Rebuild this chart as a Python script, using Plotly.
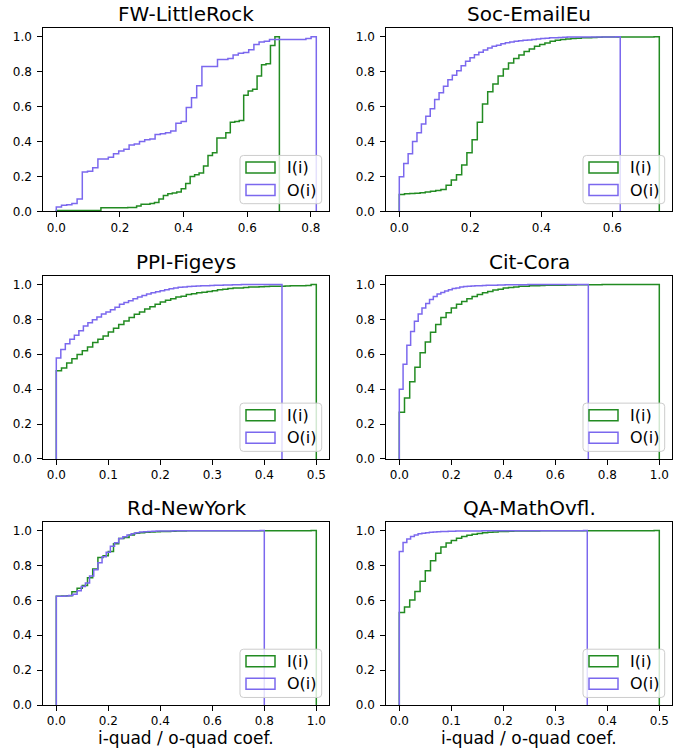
import numpy as np
import plotly.graph_objects as go

# ---------------- data ----------------
titles = ["FW-LittleRock", "Soc-EmailEu", "PPI-Figeys", "Cit-Cora", "Rd-NewYork", "QA-MathOvfl."]
series_names = ["I(i)", "O(i)"]
x_label = "i-quad / o-quad coef."

# largest coefficient of each series (right end of each cumulative histogram)
i_max = [0.701, 0.732, 0.500, 1.000, 1.000, 0.500]
o_max = [0.817, 0.622, 0.434, 0.727, 0.800, 0.3615]

# cumulative fraction per bin (50 equal bins from 0 to the max)
fw_i = [0.004, 0.004, 0.004, 0.004, 0.004, 0.004, 0.004, 0.004, 0.004, 0.004,
        0.02, 0.02, 0.02, 0.02, 0.02, 0.02, 0.022, 0.022, 0.03, 0.04,
        0.04, 0.045, 0.05, 0.07, 0.09, 0.10, 0.105, 0.11, 0.13, 0.16,
        0.20, 0.21, 0.22, 0.26, 0.32, 0.335, 0.42, 0.42, 0.45, 0.51,
        0.515, 0.52, 0.665, 0.69, 0.70, 0.775, 0.84, 0.845, 0.95, 1.0]
fw_o = [0.025, 0.035, 0.038, 0.045, 0.07, 0.225, 0.23, 0.25, 0.30, 0.30,
        0.31, 0.33, 0.345, 0.355, 0.38, 0.385, 0.40, 0.41, 0.415, 0.44,
        0.445, 0.45, 0.46, 0.505, 0.515, 0.595, 0.65, 0.72, 0.83, 0.83,
        0.83, 0.87, 0.87, 0.875, 0.895, 0.905, 0.91, 0.925, 0.955, 0.97,
        0.975, 0.985, 0.985, 0.985, 0.985, 0.985, 0.985, 0.985, 0.99, 1.0]

soc_i = [0.097, 0.10, 0.102, 0.104, 0.106, 0.11, 0.115, 0.12, 0.125, 0.15,
         0.18, 0.21, 0.265, 0.335, 0.41, 0.51, 0.615, 0.685, 0.73, 0.775,
         0.815, 0.85, 0.875, 0.895, 0.915, 0.93, 0.945, 0.955, 0.965, 0.975,
         0.98, 0.984, 0.987, 0.99, 0.992, 0.994, 0.995, 0.996, 0.997, 0.998,
         0.999, 0.999, 0.999, 0.999, 0.999, 0.999, 0.999, 0.999, 0.999, 1.0]
soc_o = [0.198, 0.274, 0.33, 0.40, 0.45, 0.50, 0.545, 0.587, 0.64, 0.68,
         0.716, 0.754, 0.78, 0.805, 0.834, 0.86, 0.88, 0.897, 0.912, 0.924,
         0.935, 0.945, 0.952, 0.96, 0.966, 0.97, 0.974, 0.977, 0.98, 0.982,
         0.985, 0.987, 0.99, 0.992, 0.994, 0.995, 0.996, 0.997, 0.998, 0.998,
         0.998, 0.999, 0.999, 0.999, 0.999, 0.999, 0.999, 0.999, 0.999, 1.0]

ppi_i = [0.505, 0.522, 0.55, 0.575, 0.598, 0.62, 0.642, 0.667, 0.686, 0.705,
         0.728, 0.749, 0.77, 0.79, 0.81, 0.829, 0.842, 0.859, 0.872, 0.886,
         0.899, 0.909, 0.918, 0.928, 0.933, 0.943, 0.947, 0.952, 0.956, 0.96,
         0.964, 0.97, 0.973, 0.977, 0.98, 0.98, 0.983, 0.985, 0.986, 0.987,
         0.988, 0.99, 0.99, 0.99, 0.991, 0.992, 0.992, 0.993, 0.994, 1.0]
ppi_o = [0.579, 0.627, 0.66, 0.686, 0.709, 0.735, 0.762, 0.78, 0.798, 0.813,
         0.83, 0.842, 0.855, 0.869, 0.886, 0.897, 0.907, 0.918, 0.928, 0.937,
         0.945, 0.952, 0.958, 0.964, 0.97, 0.975, 0.98, 0.984, 0.986, 0.988,
         0.99, 0.991, 0.992, 0.993, 0.994, 0.995, 0.996, 0.997, 0.997, 0.998,
         0.998, 0.999, 0.999, 0.999, 0.999, 0.999, 0.999, 0.999, 0.999, 1.0]

cora_i = [0.268, 0.35, 0.442, 0.526, 0.608, 0.67, 0.726, 0.771, 0.811, 0.838,
          0.865, 0.886, 0.903, 0.918, 0.931, 0.943, 0.952, 0.96, 0.968, 0.973,
          0.979, 0.983, 0.985, 0.989, 0.99, 0.992, 0.993, 0.994, 0.995, 0.995,
          0.996, 0.996, 0.997, 0.997, 0.998, 0.998, 0.998, 0.998, 0.998, 0.999,
          0.999, 0.999, 0.999, 0.999, 0.999, 0.999, 0.999, 0.999, 0.999, 1.0]
cora_o = [0.40, 0.543, 0.651, 0.731, 0.789, 0.83, 0.865, 0.891, 0.914, 0.931,
          0.945, 0.954, 0.963, 0.97, 0.977, 0.98, 0.985, 0.988, 0.99, 0.991,
          0.992, 0.993, 0.994, 0.995, 0.996, 0.996, 0.997, 0.997, 0.998, 0.998,
          0.998, 0.998, 0.998, 0.998, 0.999, 0.999, 0.999, 0.999, 0.999, 0.999,
          0.999, 0.999, 0.999, 0.999, 0.999, 0.999, 0.999, 0.999, 0.999, 1.0]

rd_i = [0.623, 0.625, 0.627, 0.65, 0.67, 0.685, 0.73, 0.78, 0.845, 0.855,
        0.88, 0.925, 0.955, 0.96, 0.975, 0.985, 0.988, 0.99, 0.992, 0.993,
        0.994, 0.995, 0.996, 0.997, 0.998, 0.999, 0.999, 0.999, 0.999, 0.999,
        0.999, 0.999, 0.999, 0.999, 0.999, 0.999, 0.999, 0.999, 0.999, 0.999,
        0.999, 0.999, 0.999, 0.999, 0.999, 0.999, 0.999, 0.999, 0.999, 1.0]
rd_o = [0.623, 0.624, 0.625, 0.628, 0.635, 0.655, 0.68, 0.70, 0.74, 0.775,
        0.815, 0.85, 0.875, 0.91, 0.93, 0.955, 0.965, 0.975, 0.982, 0.988,
        0.991, 0.993, 0.995, 0.996, 0.997, 0.998, 0.998, 0.998, 0.999, 0.999,
        0.999, 0.999, 0.999, 0.999, 0.999, 0.999, 0.999, 0.999, 0.999, 0.999,
        0.999, 0.999, 0.999, 0.999, 0.999, 0.999, 0.999, 0.999, 0.999, 1.0]

qa_i = [0.531, 0.562, 0.602, 0.651, 0.71, 0.77, 0.827, 0.87, 0.905, 0.928,
        0.943, 0.956, 0.966, 0.973, 0.979, 0.983, 0.987, 0.99, 0.992, 0.994,
        0.995, 0.996, 0.997, 0.997, 0.998, 0.998, 0.998, 0.999, 0.999, 0.999,
        0.999, 0.999, 0.999, 0.999, 0.999, 0.999, 0.999, 0.999, 0.999, 0.999,
        0.999, 0.999, 0.999, 0.999, 0.999, 0.999, 0.999, 0.999, 0.999, 1.0]
qa_o = [0.88, 0.931, 0.952, 0.966, 0.975, 0.981, 0.985, 0.988, 0.99, 0.992,
        0.993, 0.994, 0.995, 0.996, 0.996, 0.997, 0.997, 0.998, 0.998, 0.998,
        0.998, 0.998, 0.999, 0.999, 0.999, 0.999, 0.999, 0.999, 0.999, 0.999,
        0.999, 0.999, 0.999, 0.999, 0.999, 0.999, 0.999, 0.999, 0.999, 0.999,
        0.999, 0.999, 0.999, 0.999, 0.999, 0.999, 0.999, 0.999, 0.999, 1.0]

i_series = [fw_i, soc_i, ppi_i, cora_i, rd_i, qa_i]
o_series = [fw_o, soc_o, ppi_o, cora_o, rd_o, qa_o]

x_ticks = [
    [0.0, 0.2, 0.4, 0.6, 0.8],
    [0.0, 0.2, 0.4, 0.6],
    [0.0, 0.1, 0.2, 0.3, 0.4, 0.5],
    [0.0, 0.2, 0.4, 0.6, 0.8, 1.0],
    [0.0, 0.2, 0.4, 0.6, 0.8, 1.0],
    [0.0, 0.1, 0.2, 0.3, 0.4, 0.5],
]
y_ticks = [0.0, 0.2, 0.4, 0.6, 0.8, 1.0]

# ---------------- styling / layout ----------------
W, H = 686, 754
FONT = "DejaVu Sans"
GREEN = "#228B22"
PURPLE = "#7B68EE"
AX_LEFT = [43.3, 386.3]
AX_TOP = [28.3, 278.3, 526.7]
AX_W = 286.0
AX_H = 185.0


def px(x):
    return x / W


def py(y):
    return 1 - y / H


fig = go.Figure()
shapes = []
annotations = []


def rounded_rect(x0, y0, x1, y1, r):
    pts = [
        ("M", [(x0 + r, y0)]), ("L", [(x1 - r, y0)]), ("Q", [(x1, y0), (x1, y0 + r)]),
        ("L", [(x1, y1 - r)]), ("Q", [(x1, y1), (x1 - r, y1)]), ("L", [(x0 + r, y1)]),
        ("Q", [(x0, y1), (x0, y1 - r)]), ("L", [(x0, y0 + r)]), ("Q", [(x0, y0), (x0 + r, y0)]),
    ]
    s = ""
    for cmd, ps in pts:
        s += cmd + " " + " ".join(f"{px(a):.5f},{py(b):.5f}" for a, b in ps) + " "
    return s + "Z"


for k in range(6):
    r, c = divmod(k, 2)
    n = k + 1
    xa = "x" if n == 1 else f"x{n}"
    ya = "y" if n == 1 else f"y{n}"
    left, top = AX_LEFT[c], AX_TOP[r]
    bottom = top + AX_H

    for vals, vmax, color, name in ((i_series[k], i_max[k], GREEN, series_names[0]),
                                    (o_series[k], o_max[k], PURPLE, series_names[1])):
        edges = np.linspace(0.0, vmax, len(vals) + 1)
        xs = [edges[0]] + list(edges[:-1]) + [edges[-1]]
        ys = [0.0] + list(vals) + [0.0]
        fig.add_trace(go.Scatter(
            x=xs, y=ys, mode="lines", name=name,
            line=dict(color=color, width=1.5, shape="hv"),
            xaxis=xa, yaxis=ya, showlegend=False, hoverinfo="skip"))

    M = max(i_max[k], o_max[k])
    axis_common = dict(showline=True, linecolor="black", linewidth=1, mirror=True,
                       ticks="outside", ticklen=5, tickwidth=1, tickcolor="black",
                       showgrid=False, zeroline=False,
                       tickfont=dict(family=FONT, size=12, color="black"))
    fig.update_layout(**{
        ("xaxis" if n == 1 else f"xaxis{n}"): dict(
            domain=[px(left), px(left + AX_W)], anchor=ya,
            range=[-0.05 * M, 1.05 * M],
            tickvals=x_ticks[k], ticktext=[f"{t:.1f}" for t in x_ticks[k]],
            **axis_common),
        ("yaxis" if n == 1 else f"yaxis{n}"): dict(
            domain=[py(bottom), py(top)], anchor=xa,
            range=[0, 1.05],
            tickvals=y_ticks, ticktext=[f"{t:.1f}" for t in y_ticks],
            ticklabelstandoff=3,
            **axis_common),
    })

    # subplot title
    annotations.append(dict(text=titles[k], x=px(left + AX_W / 2), y=py(top - 13.8),
                            xref="paper", yref="paper", xanchor="center", yanchor="middle",
                            showarrow=False, font=dict(family=FONT, size=20, color="black")))
    if r == 2:
        annotations.append(dict(text=x_label, x=px(left + AX_W / 2), y=py(745.0),
                                xref="paper", yref="paper", xanchor="center", yanchor="middle",
                                borderpad=0,
                                showarrow=False, font=dict(family=FONT, size=17, color="black")))

    # legend (matplotlib style, lower right)
    bx0, bx1 = left + 196.7, left + 278.4
    by0, by1 = bottom - 56.4, bottom - 7.7
    shapes.append(dict(type="path", path=rounded_rect(bx0, by0, bx1, by1, 3.5),
                       xref="paper", yref="paper", layer="above",
                       line=dict(color="#cccccc", width=1), fillcolor="rgba(255,255,255,0.8)"))
    for j, (color, name, ylo, yhi) in enumerate(((GREEN, series_names[0], 38.7, 49.7),
                                                 (PURPLE, series_names[1], 16.0, 27.0))):
        shapes.append(dict(type="rect", xref="paper", yref="paper", layer="above",
                           x0=px(left + 202.7), x1=px(left + 231.7),
                           y0=py(bottom - ylo), y1=py(bottom - yhi),
                           line=dict(color=color, width=1.5), fillcolor="rgba(0,0,0,0)"))
        annotations.append(dict(text=name, x=px(left + 241.7), y=py(bottom - (ylo + yhi) / 2),
                                xref="paper", yref="paper", xanchor="left", yanchor="middle",
                                showarrow=False, font=dict(family=FONT, size=16, color="black")))

fig.update_layout(width=W, height=H, autosize=False, margin=dict(l=0, r=0, t=0, b=0, pad=0),
                  paper_bgcolor="white", plot_bgcolor="white",
                  shapes=shapes, annotations=annotations, showlegend=False)

fig.write_html("out.html",
               config={"responsive": False, "displayModeBar": False},
               post_script="document.body.style.margin='0px';document.body.style.padding='0px';"
                           "document.documentElement.style.overflow='hidden';")
